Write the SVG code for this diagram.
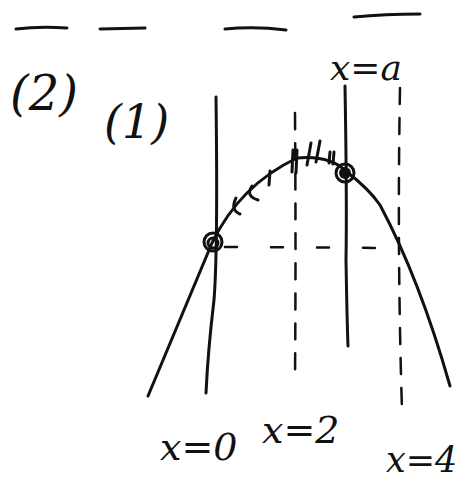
<svg xmlns="http://www.w3.org/2000/svg" width="474" height="481" viewBox="0 0 474 481">
<style>
.s{fill:none;stroke:#111;stroke-width:3;stroke-linecap:round;stroke-linejoin:round}
.d{fill:none;stroke:#111;stroke-width:2.5;stroke-linecap:round;stroke-dasharray:16 14}
.h{fill:none;stroke:#111;stroke-width:2.5;stroke-linecap:round;stroke-dasharray:12 34}
.t{font-family:"DejaVu Serif","Liberation Serif",serif;font-style:italic;fill:#111}
</style>
<rect width="474" height="481" fill="#fff"/>
<g id="bars">
<path class="s" d="M16 29 Q40 26 67 28"/>
<path class="s" d="M100 29 L145 28"/>
<path class="s" d="M225 29 Q255 26 286 30"/>
<path class="s" d="M354 17 Q385 14 420 14"/>
</g>
<g id="labels">
<text class="t" x="10" y="110" font-size="48">(2)</text>
<text class="t" x="104" y="138" font-size="46">(1)</text>
<text class="t" x="330" y="80" font-size="36">x=a</text>
<text class="t" x="160" y="460" font-size="38">x=0</text>
<text class="t" x="262" y="443" font-size="38">x=2</text>
<text class="t" x="386" y="472" font-size="35">x=4</text>
</g>
<g id="lines">
<path class="s" d="M216 97 Q218 250 214 300 Q208 350 206 393"/>
<path class="s" d="M345 86 Q347 200 346 260 Q347 320 348 346"/>
<path class="d" d="M295 113 Q296 250 295 380"/>
<path class="d" d="M400 88 Q397 250 402 410"/>
<path class="h" d="M225 247 L395 248"/>
</g>
<g id="curve">
<path class="s" d="M148 396 Q180 320 212 243 Q240 185 297 158 Q330 155 347 172 Q370 190 380 205 Q420 280 450 386"/>
<circle class="s" cx="213" cy="242" r="9" stroke-width="4"/>
<circle class="s" cx="213" cy="243" r="5"/>
<circle class="s" cx="345" cy="173" r="9" stroke-width="4"/>
<circle cx="345" cy="173" r="6" fill="#111"/>
<path class="s" d="M236 198 Q230 210 240 214"/>
<path class="s" d="M252 186 Q245 196 258 200"/>
<path class="s" d="M270 171 L269 185"/>
<path class="s" d="M293 150 L292 172 M297 150 L296 173"/>
<path class="s" d="M311 143 L307 165"/>
<path class="s" d="M320 141 L316 162"/>
<path class="s" d="M330 152 L329 163 M334 152 L333 164"/>
</g>
</svg>
